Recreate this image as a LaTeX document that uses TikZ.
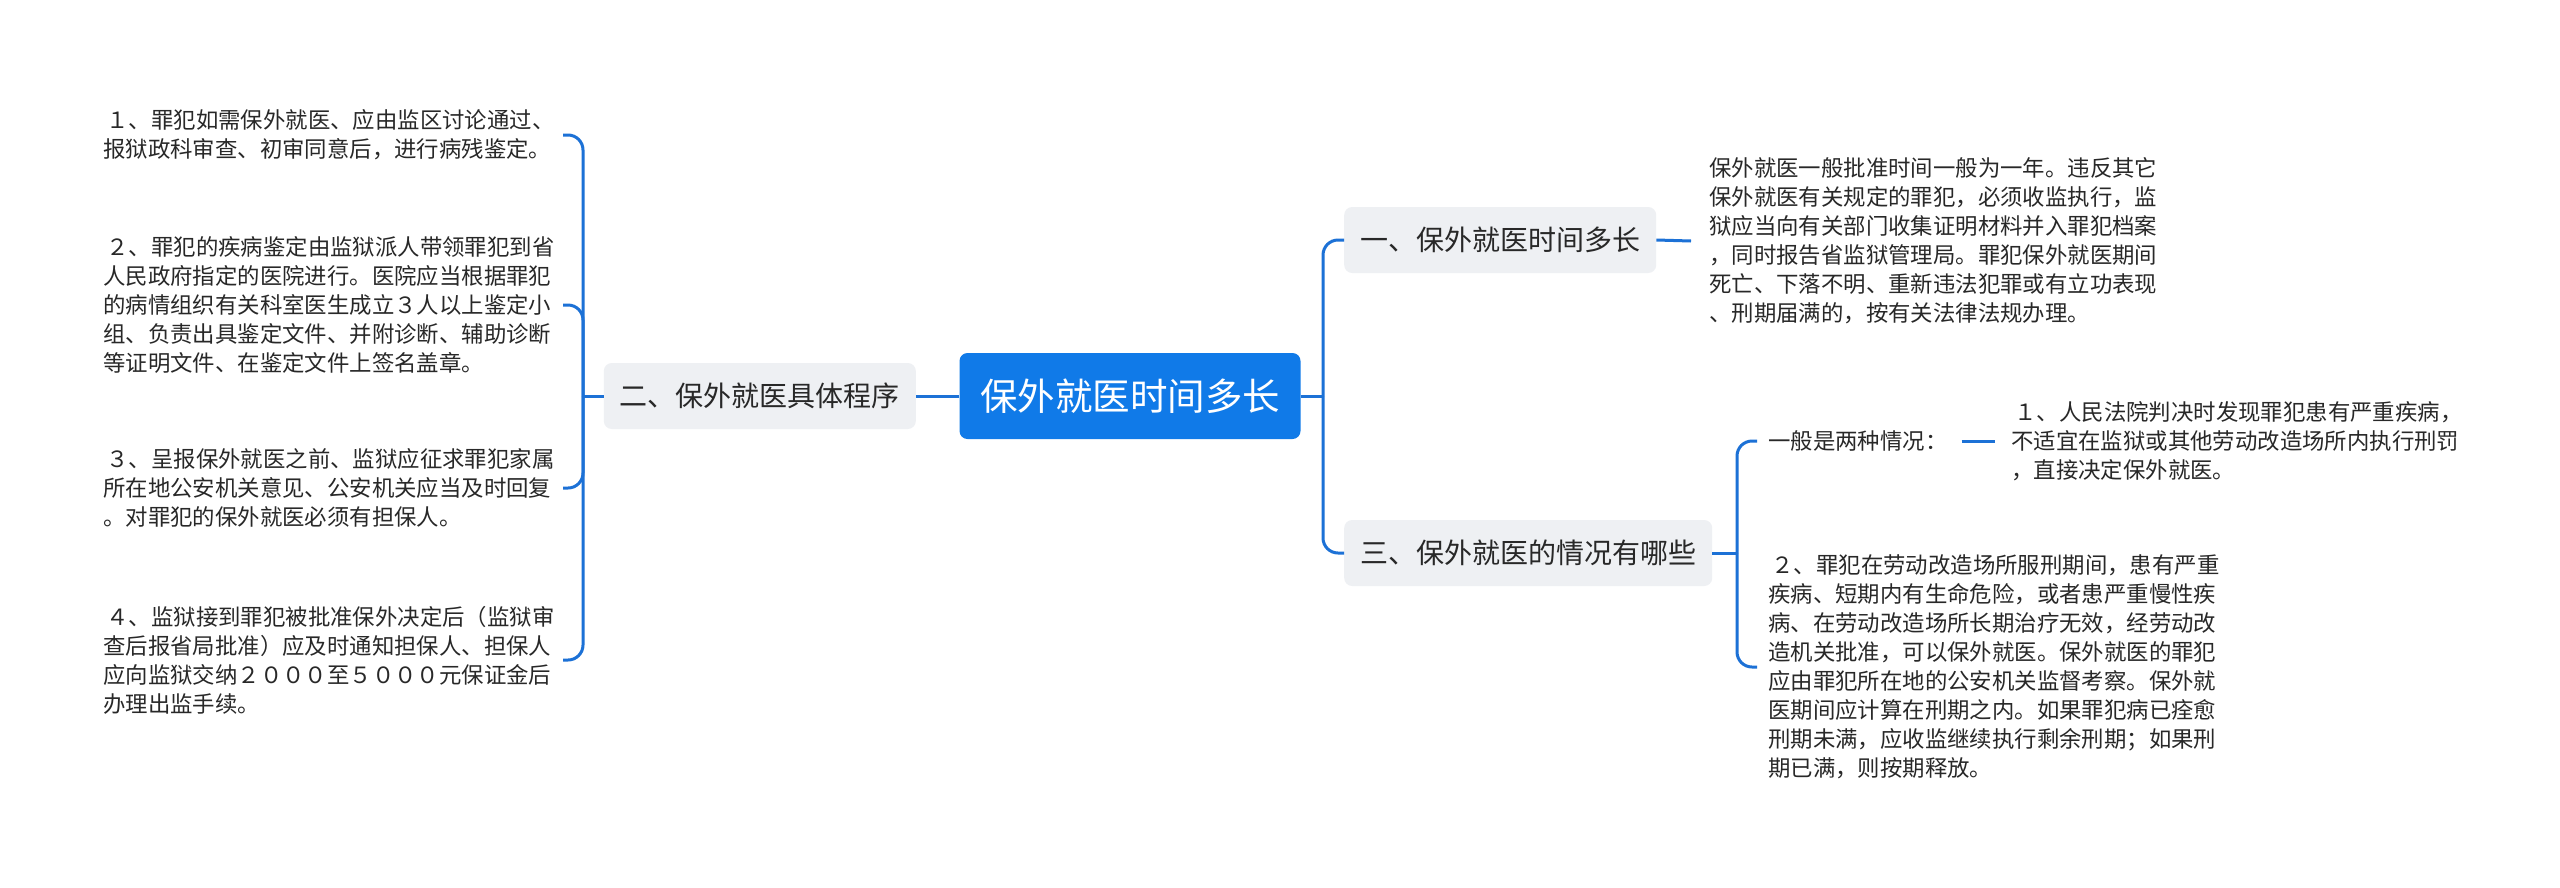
\documentclass[tikz,border=0pt]{standalone}
\usepackage{fontspec}
\setmainfont{Noto Sans CJK SC}
\usetikzlibrary{calc}
\definecolor{linec}{RGB}{28,113,214}
\definecolor{rootc}{RGB}{16,122,232}
\definecolor{subfill}{RGB}{238,240,243}
\definecolor{txt}{RGB}{40,40,40}
\tikzset{
  conn/.style={draw=linec, line width=3pt, rounded corners=15pt},
  rootbox/.style={fill=rootc, rounded corners=8pt, text=white, minimum width=341pt, minimum height=86pt, inner sep=0pt, font=\fontsize{37.5}{44}\selectfont},
  subbox/.style={fill=subfill, rounded corners=8pt, text=txt, minimum height=66pt, inner xsep=16pt, inner ysep=0pt, font=\fontsize{28}{34}\selectfont},
  leaf/.style={text=txt, align=left, inner sep=0pt, anchor=west, font=\fontsize{22.4}{29}\selectfont},
}
\begin{document}
\begin{tikzpicture}[x=1pt,y=-1pt]
\useasboundingbox[fill=white] (0,0) rectangle (2560,887);
% root
\node[rootbox] (root) at (1130,396) {保外就医时间多长};
% level 1
\node[subbox, anchor=east] (b2) at (916,396) {二、保外就医具体程序};
\node[subbox, anchor=west] (b1) at (1344,240) {一、保外就医时间多长};
\node[subbox, anchor=west] (b3) at (1344,553) {三、保外就医的情况有哪些};
% left leaves
\node[leaf] (t1) at (103,135) {\hspace{0.15em}１、罪犯如需保外就医、应由监区讨论通过、\\报狱政科审查、初审同意后，进行病残鉴定。};
\node[leaf] (t2) at (103,305) {\hspace{0.15em}２、罪犯的疾病鉴定由监狱派人带领罪犯到省\\人民政府指定的医院进行。医院应当根据罪犯\\的病情组织有关科室医生成立３人以上鉴定小\\组、负责出具鉴定文件、并附诊断、辅助诊断\\等证明文件、在鉴定文件上签名盖章。};
\node[leaf] (t3) at (103,488) {\hspace{0.15em}３、呈报保外就医之前、监狱应征求罪犯家属\\所在地公安机关意见、公安机关应当及时回复\\。对罪犯的保外就医必须有担保人。};
\node[leaf] (t4) at (103,660) {\hspace{0.15em}４、监狱接到罪犯被批准保外决定后（监狱审\\查后报省局批准）应及时通知担保人、担保人\\应向监狱交纳２０００至５０００元保证金后\\办理出监手续。};
% right leaves
\node[leaf] (tone) at (1709,241) {保外就医一般批准时间一般为一年。违反其它\\保外就医有关规定的罪犯，必须收监执行，监\\狱应当向有关部门收集证明材料并入罪犯档案\\，同时报告省监狱管理局。罪犯保外就医期间\\死亡、下落不明、重新违法犯罪或有立功表现\\、刑期届满的，按有关法律法规办理。};
\node[leaf] (two) at (1768,441) {一般是两种情况：};
\node[leaf] (r1) at (2011,441) {\hspace{0.15em}１、人民法院判决时发现罪犯患有严重疾病，\\不适宜在监狱或其他劳动改造场所内执行刑罚\\，直接决定保外就医。};
\node[leaf] (r2) at (1768,667) {\hspace{0.15em}２、罪犯在劳动改造场所服刑期间，患有严重\\疾病、短期内有生命危险，或者患严重慢性疾\\病、在劳动改造场所长期治疗无效，经劳动改\\造机关批准，可以保外就医。保外就医的罪犯\\应由罪犯所在地的公安机关监督考察。保外就\\医期间应计算在刑期之内。如果罪犯病已痊愈\\刑期未满，应收监继续执行剩余刑期；如果刑\\期已满，则按期释放。};
% junction coordinates
\coordinate (jl) at (583,396);
\coordinate (lx) at (563,0);
\coordinate (jr) at (1323,396);
\coordinate (j3) at (1737,553);
% connectors
\draw[conn] (root.west) -- (b2.east);
\draw[conn] (b2.west) -- (jl);
\draw[conn] (jl) |- (t1.east -| lx);
\draw[conn] (jl) |- (t2.east -| lx);
\draw[conn] (jl) |- (t3.east -| lx);
\draw[conn] (jl) |- (t4.east -| lx);
\draw[conn] (root.east) -- (jr);
\draw[conn] (jr) |- (b1.west);
\draw[conn] (jr) |- (b3.west);
\draw[conn] (b1.east) -- ([xshift=-18pt]tone.west);
\draw[conn] (b3.east) -- (j3);
\draw[conn] (j3) |- ([xshift=-11pt]two.west);
\draw[conn] (j3) |- ([xshift=-11pt]r2.west);
\draw[conn] ([xshift=14pt]two.east) -- ([xshift=-16pt]r1.west);
\end{tikzpicture}
\end{document}
